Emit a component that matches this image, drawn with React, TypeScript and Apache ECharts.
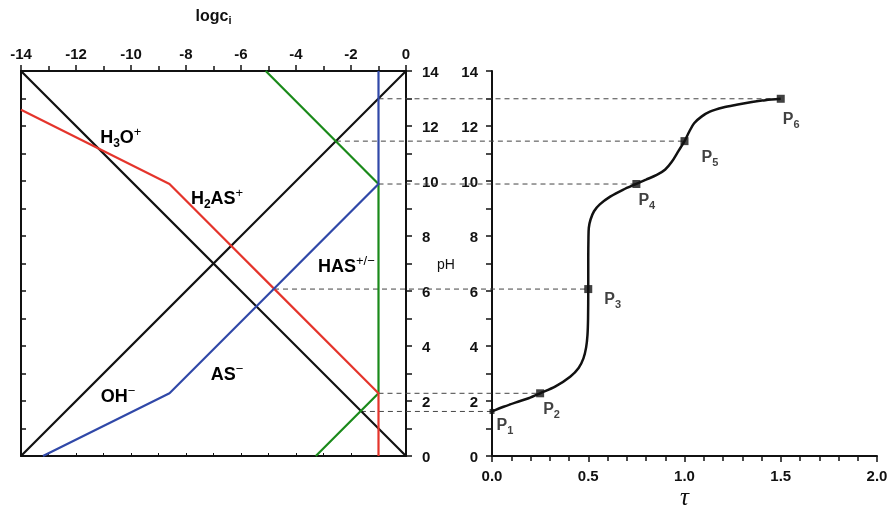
import React, { useEffect, useRef } from "react";
import * as echarts from "echarts";

// Left panel: log-concentration diagram (logc_i vs pH), polyline vertices
const h3oLine = [[-14, 14], [0, 0]];
const ohLine = [[-14, 0], [0, 14]];
const h2asLine = [[-1, 0], [-1, 2.28], [-8.6, 9.89], [-14, 12.59]];
const hasLine = [[-3.28, 0], [-1, 2.28], [-1, 9.89], [-5.1, 14]];
const asLine = [[-13.2, 0], [-8.6, 2.28], [-1, 9.89], [-1, 14]];

// Right panel: titration curve pH vs tau
const curveTau = [0, 0.06, 0.125, 0.19, 0.25, 0.33, 0.406, 0.45, 0.475, 0.489, 0.496, 0.499, 0.5, 0.5, 0.501, 0.503, 0.512, 0.53, 0.56, 0.614, 0.68, 0.747, 0.8, 0.856, 0.9, 0.934, 0.965, 1.0, 1.025, 1.05, 1.09, 1.132, 1.2, 1.27, 1.35, 1.42, 1.5];
const curvePH = [1.62, 1.79, 1.95, 2.1, 2.28, 2.53, 2.88, 3.2, 3.55, 3.95, 4.4, 5.0, 6.07, 7.2, 7.9, 8.3, 8.6, 8.9, 9.15, 9.43, 9.68, 9.89, 10.05, 10.22, 10.42, 10.7, 11.05, 11.45, 11.8, 12.1, 12.35, 12.52, 12.67, 12.77, 12.87, 12.94, 12.99];

// Marked points P1..P6
const pointNames = ["1", "2", "3", "4", "5", "6"];
const pointTau = [0, 0.25, 0.5, 0.75, 1.0, 1.5];
const pointPH = [1.62, 2.28, 6.07, 9.89, 11.45, 12.99];
// where each dashed guide starts in the left panel (logc)
const guideLogc = [-1.64, -1, -4.8, -1, -2.55, -1];

// Axis ticks
const logcTicks = [-14, -12, -10, -8, -6, -4, -2, 0];
const pHTicks = [0, 2, 4, 6, 8, 10, 12, 14];
const tauTicks = [0, 0.5, 1.0, 1.5, 2.0];

// Species labels (text + anchor in logc/pH coordinates)
const speciesLabels = [
  { rich: "{b|H}{s|3}{b|O}{p|+}", at: [-11.12, 11.6], color: "#111111" },
  { rich: "{b|H}{s|2}{b|AS}{p|+}", at: [-7.82, 9.4], color: "#e4342b" },
  { rich: "{b|HAS}{p|+/−}", at: [-3.2, 6.92], color: "#1a8a1a" },
  { rich: "{b|AS}{p|−}", at: [-7.1, 3.0], color: "#3048a8" },
  { rich: "{b|OH}{p|−}", at: [-11.1, 2.2], color: "#111111" },
];

const FONT = "'Liberation Sans', Arial, sans-serif";

const labelOffsets = [
  [-3, 13],
  [-6, 15],
  [7, 9],
  [-7, 15],
  [8, 15],
  [-7, 20],
];

function richStyles(color: string, size: number) {
  return {
    b: { fontFamily: FONT, fontWeight: "bold", fontSize: size, color, lineHeight: size + 6, verticalAlign: "middle" },
    s: { fontFamily: FONT, fontWeight: "bold", fontSize: Math.round(size * 0.68), color, lineHeight: Math.round(size * 0.68), verticalAlign: "bottom" },
    p: { fontFamily: FONT, fontWeight: "normal", fontSize: Math.round(size * 0.72), color, lineHeight: Math.round(size * 0.72), verticalAlign: "top" },
  };
}

export default function App() {
  const ref = useRef<HTMLDivElement>(null);
  useEffect(() => {
    const chart = echarts.init(ref.current!, null, { renderer: "svg" });
    const axisLine = { show: true, onZero: false, lineStyle: { color: "#111", width: 2 } };
    const tickLabel = { fontFamily: FONT, fontWeight: "bold" as const, fontSize: 15, color: "#111" };
    const lineStyle = (c: string) => ({ color: c, width: 2.2 });
    const mkLine = (data: number[][], color: string, z = 2) => ({
      type: "line",
      xAxisIndex: 0,
      yAxisIndex: 0,
      data,
      symbol: "none",
      lineStyle: lineStyle(color),
      z,
      silent: true,
    });

    chart.setOption({
      animation: false,
      grid: [
        { left: 21, top: 71, width: 385, height: 385, outerBoundsMode: "none", containLabel: false },
        { left: 492, top: 71, width: 385, height: 385, outerBoundsMode: "none", containLabel: false },
      ],
      xAxis: [
        {
          gridIndex: 0, type: "value", position: "top", min: -14, max: 0, interval: 2,
          axisLine, splitLine: { show: false },
          axisTick: { show: true, inside: false, length: 6, lineStyle: { color: "#111", width: 1.5 } },
          minorTick: { show: true, splitNumber: 2, length: 5, lineStyle: { color: "#111", width: 1.5 } },
          axisLabel: { ...tickLabel, margin: 10, customValues: logcTicks },
          name: "{b|logc}{s|i}",
          nameLocation: "middle",
          nameGap: 46,
          nameMoveOverlap: false,
          nameTextStyle: {
            rich: {
              b: { fontFamily: FONT, fontWeight: "bold", fontSize: 16, color: "#111", lineHeight: 20 },
              s: { fontFamily: FONT, fontWeight: "bold", fontSize: 11, color: "#111", lineHeight: 11, verticalAlign: "bottom" },
            },
          },
        },
        {
          gridIndex: 0, type: "value", position: "bottom", min: -14, max: 0, interval: 1,
          axisLine, splitLine: { show: false },
          axisTick: { show: true, inside: true, length: 3, lineStyle: { color: "#111", width: 1 } },
          axisLabel: { show: false },
        },
        {
          gridIndex: 1, type: "value", position: "bottom", min: 0, max: 2, interval: 0.5,
          axisLine, splitLine: { show: false },
          axisTick: { show: true, inside: false, length: 6, lineStyle: { color: "#111", width: 1.5 } },
          minorTick: { show: true, splitNumber: 5, length: 5, lineStyle: { color: "#111", width: 1.5 } },
          axisLabel: { ...tickLabel, margin: 12, formatter: (v: number) => v.toFixed(1), customValues: tauTicks },
          name: "τ",
          nameLocation: "middle",
          nameGap: 40,
          nameMoveOverlap: false,
          nameTextStyle: { fontFamily: "'Liberation Serif', 'DejaVu Serif', serif", fontStyle: "italic", fontSize: 25, color: "#111", lineHeight: 24, verticalAlign: "middle" },
        },
      ],
      yAxis: [
        {
          gridIndex: 0, type: "value", position: "right", min: 0, max: 14, interval: 2,
          axisLine, splitLine: { show: false },
          axisTick: { show: true, inside: false, length: 6, lineStyle: { color: "#111", width: 1.5 } },
          minorTick: { show: true, splitNumber: 2, length: 6, lineStyle: { color: "#111", width: 1.5 } },
          axisLabel: { ...tickLabel, margin: 16, customValues: pHTicks },
          name: "pH",
          nameLocation: "middle",
          nameRotate: 0,
          nameGap: 31,
          nameMoveOverlap: false,
          nameTextStyle: { fontFamily: FONT, fontSize: 14, color: "#111", align: "left", verticalAlign: "middle" },
        },
        {
          gridIndex: 0, type: "value", position: "left", min: 0, max: 14, interval: 1,
          axisLine, splitLine: { show: false },
          axisTick: { show: true, inside: true, length: 5, lineStyle: { color: "#111", width: 1.5 } },
          axisLabel: { show: false },
        },
        {
          gridIndex: 1, type: "value", position: "left", min: 0, max: 14, interval: 2,
          axisLine, splitLine: { show: false },
          axisTick: { show: true, inside: false, length: 6, lineStyle: { color: "#111", width: 1.5 } },
          minorTick: { show: true, splitNumber: 2, length: 6, lineStyle: { color: "#111", width: 1.5 } },
          axisLabel: { ...tickLabel, margin: 14, customValues: pHTicks },
        },
      ],
      series: [
        mkLine(h3oLine, "#111111"),
        mkLine(ohLine, "#111111"),
        mkLine(hasLine, "#1a8a1a", 3),
        mkLine(h2asLine, "#e4342b", 4),
        mkLine(asLine, "#3048a8", 5),
        {
          type: "line",
          xAxisIndex: 2,
          yAxisIndex: 2,
          data: curveTau.map((t, i) => [t, curvePH[i]]),
          symbol: "none",
          smooth: 0.3,
          lineStyle: { color: "#111", width: 2.5 },
          z: 5,
        },
        {
          type: "scatter",
          xAxisIndex: 2,
          yAxisIndex: 2,
          z: 6,
          data: pointTau.map((t, i) => ({
            value: [t, pointPH[i]],
            symbolSize: i === 0 ? 5 : 8,
            label: {
              show: true,
              position: "right",
              offset: labelOffsets[i],
              formatter: `{b|P}{s|${pointNames[i]}}`,
              rich: richStyles("#111", 16),
            },
          })),
          symbol: "rect",
          itemStyle: { color: "#111" },
        },
      ],
    });

    const dashed = pointPH.map((ph, i) => {
      const a = chart.convertToPixel({ xAxisIndex: 0, yAxisIndex: 0 }, [guideLogc[i], ph]) as number[];
      const b = chart.convertToPixel({ xAxisIndex: 2, yAxisIndex: 2 }, [pointTau[i], ph]) as number[];
      return {
        type: "line",
        z: 1,
        silent: true,
        shape: { x1: a[0], y1: a[1], x2: b[0], y2: b[1] },
        style: { stroke: "#444", lineWidth: 1, lineDash: [5, 4] },
      };
    });
    const texts = speciesLabels.map((l) => {
      const p = chart.convertToPixel({ xAxisIndex: 0, yAxisIndex: 0 }, l.at) as number[];
      return {
        type: "text",
        z: 10,
        x: p[0],
        y: p[1],
        style: { text: l.rich, rich: richStyles(l.color, 18), align: "left", verticalAlign: "middle" },
      };
    });
    chart.setOption({ graphic: [...dashed, ...texts] });

    return () => chart.dispose();
  }, []);
  return <div ref={ref} style={{ position: "fixed", left: 0, top: 0, width: 890, height: 508 }} />;
}
